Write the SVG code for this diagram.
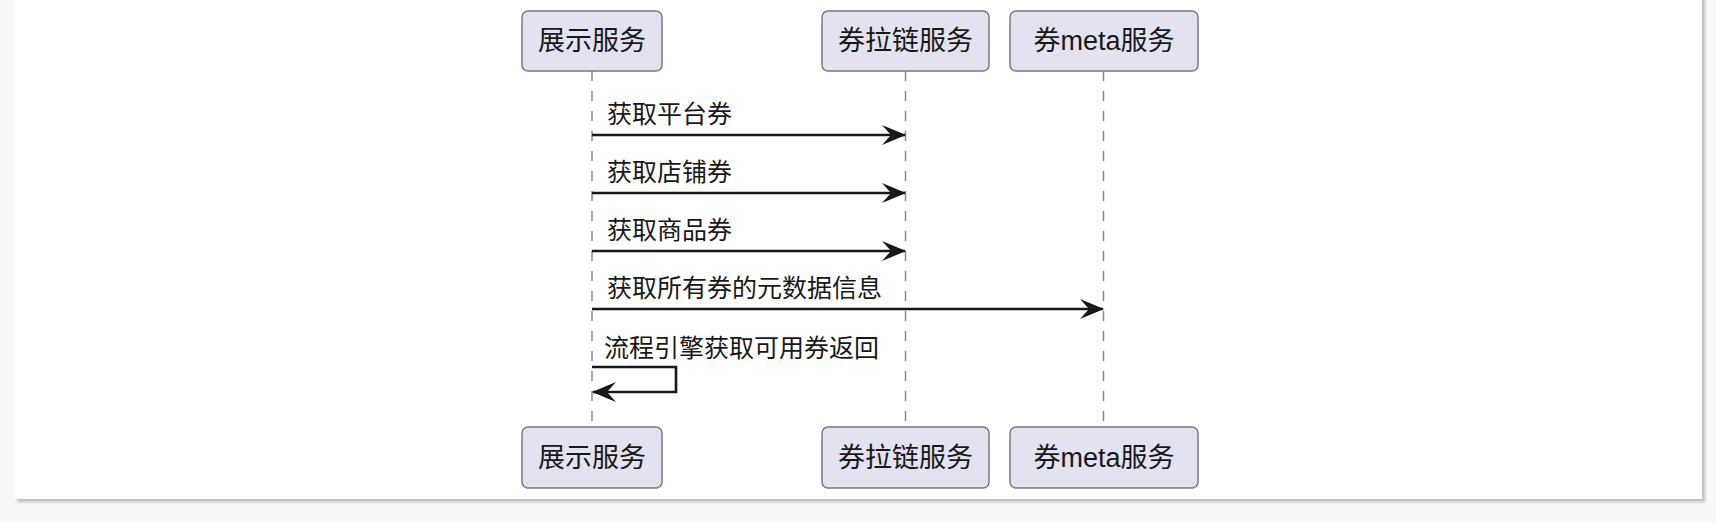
<svg xmlns="http://www.w3.org/2000/svg" width="1716" height="522" viewBox="0 0 1716 522">
<style>
.bg{fill:#f8f8f8}
.card{fill:#ffffff}
.shadow{fill:#bdbdbd}
.box{fill:#E2E2F0;stroke:#7a7a7a;stroke-width:1.5}
.life{stroke:#8a8a8a;stroke-width:1.5;stroke-dasharray:10,10;fill:none}
.msg{stroke:#181818;stroke-width:2.6;fill:none}
.pt{font-family:"Liberation Sans","Noto Sans CJK SC",sans-serif;font-size:27px;fill:#181818;text-anchor:middle}
.ml{font-family:"Liberation Sans","Noto Sans CJK SC",sans-serif;font-size:25px;fill:#181818}
</style>
<defs>
<filter id="blur" x="-5%" y="-5%" width="110%" height="110%"><feGaussianBlur stdDeviation="1.5"/></filter>
<marker id="ah" viewBox="0 0 24 20" refX="23" refY="10" markerWidth="24" markerHeight="20" markerUnits="userSpaceOnUse" orient="auto">
<path d="M0,0 L24,10 L0,20 L9,10 Z" fill="#181818"/>
</marker>
</defs>
<rect class="bg" x="0" y="0" width="1716" height="522"/>
<rect class="shadow" x="17" y="-8" width="1688" height="510" filter="url(#blur)"/>
<rect class="card" x="14" y="-10" width="1688" height="509"/>

<g id="lifelines">
<line class="life" x1="592" y1="71" x2="592" y2="427"/>
<line class="life" x1="905.5" y1="71" x2="905.5" y2="427"/>
<line class="life" x1="1103.5" y1="71" x2="1103.5" y2="427"/>
</g>

<g id="node-display-top"><rect class="box" x="522" y="11" width="140" height="60" rx="6"/><text class="pt" x="592" y="50">展示服务</text></g>
<g id="node-chain-top"><rect class="box" x="822" y="11" width="167" height="60" rx="6"/><text class="pt" x="905.5" y="50">券拉链服务</text></g>
<g id="node-meta-top"><rect class="box" x="1010" y="11" width="188" height="60" rx="6"/><text class="pt" x="1104" y="50">券meta服务</text></g>

<g id="node-display-bottom"><rect class="box" x="522" y="427" width="140" height="61" rx="6"/><text class="pt" x="592" y="467">展示服务</text></g>
<g id="node-chain-bottom"><rect class="box" x="822" y="427" width="167" height="61" rx="6"/><text class="pt" x="905.5" y="467">券拉链服务</text></g>
<g id="node-meta-bottom"><rect class="box" x="1010" y="427" width="188" height="61" rx="6"/><text class="pt" x="1104" y="467">券meta服务</text></g>

<g id="connectors">
<line class="msg" x1="592" y1="135" x2="905" y2="135" marker-end="url(#ah)"/>
<text class="ml" x="607" y="123">获取平台券</text>
<line class="msg" x1="592" y1="193" x2="905" y2="193" marker-end="url(#ah)"/>
<text class="ml" x="607" y="181">获取店铺券</text>
<line class="msg" x1="592" y1="251" x2="905" y2="251" marker-end="url(#ah)"/>
<text class="ml" x="607" y="239">获取商品券</text>
<line class="msg" x1="592" y1="309" x2="1103" y2="309" marker-end="url(#ah)"/>
<text class="ml" x="607" y="297">获取所有券的元数据信息</text>
<polyline class="msg" points="592,367 676,367 676,392 593,392" marker-end="url(#ah)"/>
<text class="ml" x="604" y="357">流程引擎获取可用券返回</text>
</g>
</svg>
